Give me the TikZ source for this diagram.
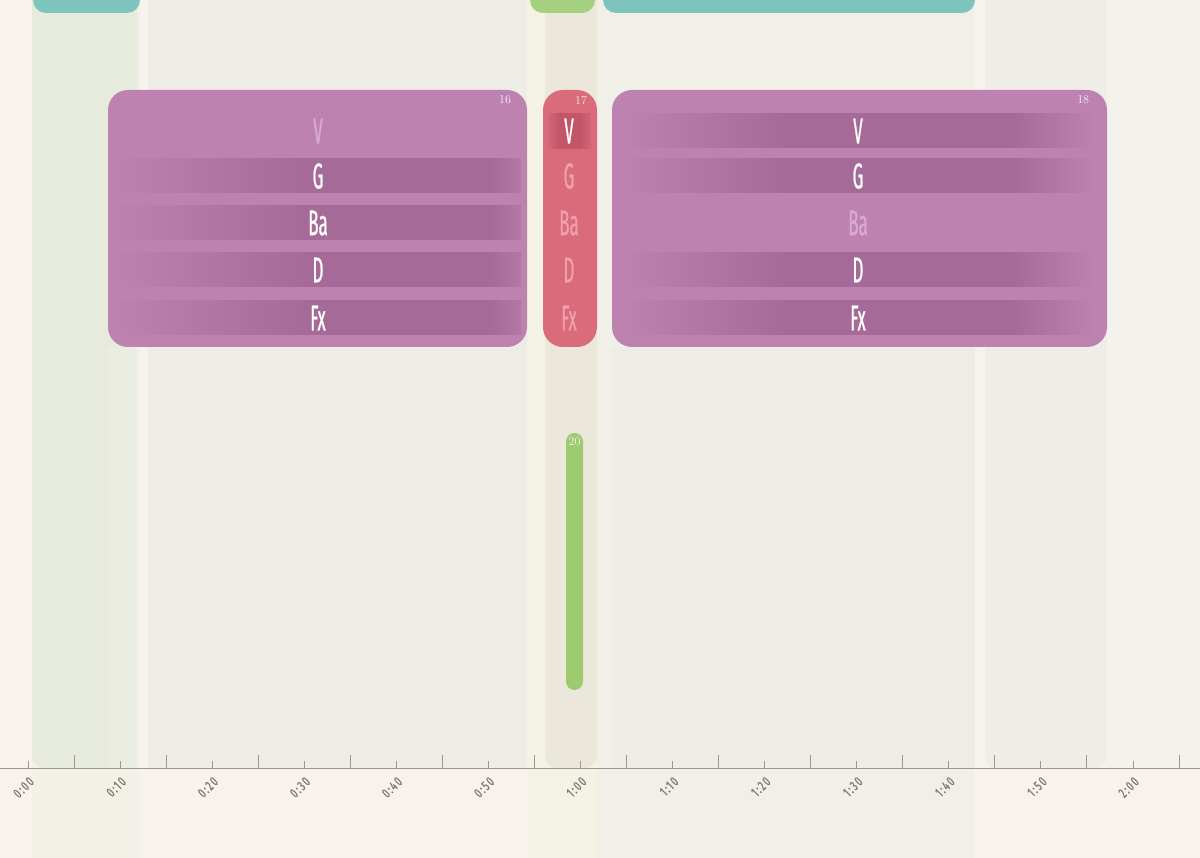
\documentclass[tikz,border=0pt]{standalone}
\usepackage{fontspec}
\usepackage{tikz}
\usetikzlibrary{positioning}
\usetikzlibrary{fadings}

\newfontfamily\condfont[FakeStretch=0.47,FakeBold=0.6]{Fira Sans}
\newfontfamily\axisfont[FakeStretch=0.65,LetterSpace=12,FakeBold=0.9]{Fira Sans}

\definecolor{bgPaper}{HTML}{F8F2EE}
\definecolor{colGreenPale}{HTML}{F1F1E8}
\definecolor{colGreen}{HTML}{E7EBDD}
\definecolor{colGrey}{HTML}{EDECE6}
\definecolor{colCream}{HTML}{F3F2E4}
\definecolor{colBeige}{HTML}{EBE8DB}
\definecolor{colMint}{HTML}{F0F0E8}
\definecolor{colRight}{HTML}{F3F2EC}
\definecolor{tealBlk}{HTML}{7DC4BC}
\definecolor{greenBlk}{HTML}{A5D07F}
\definecolor{pillGreen}{HTML}{9DCB6F}
\definecolor{purpleBlk}{HTML}{BE82B1}
\definecolor{purpleDark}{HTML}{A66A99}
\definecolor{purpleFade}{HTML}{D8ABD0}
\definecolor{redBlk}{HTML}{D96B7A}
\definecolor{redDark}{HTML}{C25668}
\definecolor{redFade}{HTML}{F0A0A9}
\definecolor{axisGrey}{HTML}{9C9792}
\definecolor{lblGrey}{HTML}{7E7974}

\begin{document}
\begin{tikzpicture}[
  x=1pt, y=-1pt,
  % blockBox/.style={rectangle, rounded corners=20pt},
  blockBox/.style={rectangle, rounded corners=20pt, inner sep=0pt, minimum height=257pt},
  rowLbl/.style={font=\condfont\fontsize{36}{36}\selectfont, inner sep=0pt},
  numLbl/.style={font=\fontsize{12}{12}\selectfont, inner sep=0pt, text=white!88!purpleBlk},
  axisLbl/.style={font=\axisfont\fontsize{14}{14}\selectfont, text=lblGrey, rotate=45, anchor=east, inner sep=0.5pt},
  tickMinor/.style={draw=axisGrey, line width=0.8pt},
  tickMajor/.style={draw=axisGrey, line width=0.8pt},
]

\tikzset{
  topBox/.style 2 args={
    rectangle, rounded corners=13pt, inner sep=0pt,
    minimum width=#1, minimum height=40pt,
    fill=#2
  }
}

\useasboundingbox (0,0) rectangle (1200,858);

% --- Begin background columns ---
\fill[bgPaper] (0,0) rectangle (1200,858);
\fill[colGreenPale] (32,0) rectangle (140,858);
\fill[colGreen, rounded corners=12pt] (32,-20) rectangle (137,768);
\fill[colGrey] (148,0) rectangle (527,768);
\fill[colGrey!60!colGreen] (108,347) rectangle (137,768);
\fill[colCream] (527,0) rectangle (597,858);
\fill[colBeige, rounded corners=12pt] (545,-20) rectangle (597,768);
\fill[colMint] (597,0) rectangle (975,858);
\fill[colGrey] (612,347) rectangle (975,768);
\fill[colGrey!80!colRight, rounded corners=12pt] (985,-20) rectangle (1107,768);
\fill[colRight] (1107,0) rectangle (1200,768);

% --- top blocks (cut by the page) ---
\node[topBox={107pt}{tealBlk}] (topA) at (86.5,-7) {};
\node[topBox={65pt}{greenBlk}] (topB) at (562.5,-7) {};
\node[topBox={372pt}{tealBlk}] (topC) at (789,-7) {};

% --- Begin block 16 ---
\node[blockBox, fill=purpleBlk, minimum width=419pt] (blk16) at (317.5,218.5) {};
\foreach \lbl/\yy/\on [count=\r] in {V/131/0,G/176/1,Ba/223/1,D/270/1,Fx/318/1} {
  \ifnum\on=1
    \fill[purpleDark] (116,\yy-17.5) rectangle (521,\yy+17.5);
    \fill[purpleBlk, path fading=east] (116,\yy-17.5) rectangle (310,\yy+17.5);
    \fill[purpleBlk, path fading=west, fill opacity=0.6] (490,\yy-17.5) rectangle (521,\yy+17.5);
  \fi
  \node[rowLbl] (b16r\r) at (318,\yy) {\ifnum\on=1\color{white}\else\color{purpleFade}\fi\lbl};
}
\node[numLbl, below left=6pt and 16pt of blk16.north east] (n16) {16};

% --- Begin block 17 ---
\node[blockBox, fill=redBlk, minimum width=54pt] (blk17) at (570,218.5) {};
\foreach \lbl/\yy/\on [count=\r] in {V/131/1,G/176/0,Ba/223/0,D/270/0,Fx/318/0} {
  \ifnum\on=1
    \fill[redDark] (548,\yy-18) rectangle (591,\yy+18);
    \fill[redBlk, path fading=east, fill opacity=0.8] (548,\yy-18) rectangle (560,\yy+18);
    \fill[redBlk, path fading=west, fill opacity=0.8] (580,\yy-18) rectangle (591,\yy+18);
  \fi
  \node[rowLbl] (b17r\r) at (569,\yy) {\ifnum\on=1\color{white}\else\color{redFade}\fi\lbl};
}
\node[numLbl, below left=6pt and 10pt of blk17.north east, text=white!85!redBlk] (n17) {17};

% --- Begin block 18 ---
\node[blockBox, fill=purpleBlk, minimum width=495pt] (blk18) at (859.5,218.5) {};
\foreach \lbl/\yy/\on [count=\r] in {V/131/1,G/176/1,Ba/223/0,D/270/1,Fx/318/1} {
  \ifnum\on=1
    \fill[purpleDark] (625,\yy-17.5) rectangle (1093,\yy+17.5);
    \fill[purpleBlk, path fading=east] (625,\yy-17.5) rectangle (790,\yy+17.5);
    \fill[purpleBlk, path fading=west] (1010,\yy-17.5) rectangle (1093,\yy+17.5);
  \fi
  \node[rowLbl] (b18r\r) at (858,\yy) {\ifnum\on=1\color{white}\else\color{purpleFade}\fi\lbl};
}
\node[numLbl, below left=6pt and 18pt of blk18.north east] (n18) {18};

% --- green pill ---
\node[rectangle, rounded corners=8.5pt, fill=pillGreen, inner sep=0pt,
  minimum width=17pt, minimum height=257pt] (pill20) at (574.5,561.5) {};
\node[numLbl, below=5pt of pill20.north, text=white!85!pillGreen] (n20) {20};

% --- Begin time axis ---
\coordinate (axL) at (0,768);
\coordinate (axR) at (1200,768);
\draw[draw=axisGrey, line width=0.8pt] (axL) -- (axR);
\foreach \lab [count=\i from 0] in {0:00,0:10,0:20,0:30,0:40,0:50,1:00,1:10,1:20,1:30,1:40,1:50,2:00} {
  \pgfmathsetmacro\tx{28+92.08*\i}
  \draw[tickMinor] (\tx,761) -- (\tx,768);
  \draw[tickMajor] (\tx+46,755) -- (\tx+46,768);
  \node[axisLbl] (t\i) at (\tx+4,779) {\lab};
}

\end{tikzpicture}
\end{document}
